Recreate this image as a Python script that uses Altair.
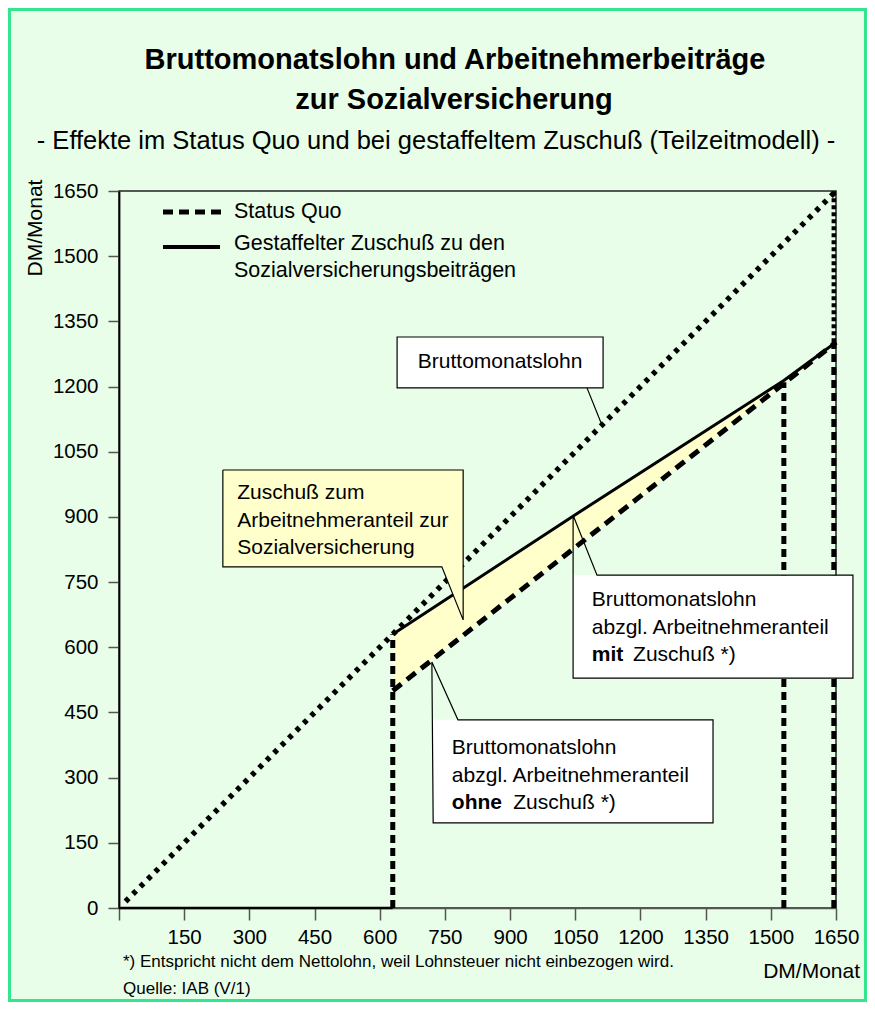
import altair as alt
import pandas as pd

FONT = "Liberation Sans"

# ---------------- data ----------------
gross_x = [15, 1650]
gross_y = [15, 1650]

net_x = [630, 1050, 1530, 1650]
status_quo_y = [500, 830, 1207, 1302]      # gross minus employee share, no subsidy
zuschuss_y = [630, 905, 1214, 1302]        # gross minus employee share, with graded subsidy

vert_x = [630, 1530, 1645]
vert_top = [630, 1210, 1302]

x_ticks = [0, 150, 300, 450, 600, 750, 900, 1050, 1200, 1350, 1500, 1650]
y_ticks = [0, 150, 300, 450, 600, 750, 900, 1050, 1200, 1350, 1500, 1650]

title_lines = ["Bruttomonatslohn und Arbeitnehmerbeiträge", "zur Sozialversicherung"]
subtitle = "- Effekte im Status Quo und bei gestaffeltem Zuschuß (Teilzeitmodell) -"
legend_sq = "Status Quo"
legend_zu = ["Gestaffelter Zuschuß zu den", "Sozialversicherungsbeiträgen"]
note_1 = "*) Entspricht nicht dem Nettolohn, weil Lohnsteuer nicht einbezogen wird."
note_2 = "Quelle: IAB (V/1)"
unit = "DM/Monat"

# ---------------- tables ----------------
df_gross = pd.DataFrame({"x": gross_x, "y": gross_y})
df_net = pd.DataFrame({"x": net_x, "sq": status_quo_y, "zu": zuschuss_y})
df_vert = pd.DataFrame({"x": vert_x, "y0": [0] * len(vert_x), "top": vert_top})
one = pd.DataFrame({"a": [0]})

W, H = 717, 717
PAD = {"left": 111, "top": 183, "right": 31, "bottom": 94}

xs = alt.Scale(domain=[0, 1650], nice=False, zero=False)
ys = alt.Scale(domain=[0, 1650], nice=False, zero=False)

x_axis = alt.Axis(values=x_ticks, format="d",
                  labelExpr="datum.value == 0 ? '' : datum.label",
                  tickSize=12, tickColor="#555555", tickWidth=1.5,
                  domainColor="#555555", domainWidth=1.5,
                  labelFontSize=20.5, labelFont=FONT, labelColor="black",
                  labelPadding=7, grid=False, title=None, labelFlush=False,
                  labelOverlap=False)
y_axis = alt.Axis(values=y_ticks, format="d", tickSize=11, tickColor="#555555",
                  tickWidth=1.5, domainColor="black", domainWidth=1.8,
                  labelFontSize=20.5, labelFont=FONT, labelColor="black",
                  labelPadding=10, grid=False, title=None, labelOverlap=False)

fill = alt.Chart(df_net).mark_area(color="#FFFFCC", opacity=1).encode(
    x=alt.X("x:Q", scale=xs, axis=x_axis),
    y=alt.Y("zu:Q", scale=ys, axis=y_axis),
    y2="sq:Q",
)

gross = alt.Chart(df_gross).mark_line(color="black", strokeWidth=5.5,
                                      strokeDash=[4.5, 6], strokeCap="butt").encode(
    x="x:Q", y="y:Q")

sq_line = alt.Chart(df_net).mark_line(color="black", strokeWidth=5,
                                      strokeDash=[11, 7], strokeCap="butt").encode(
    x="x:Q", y="sq:Q")

zu_line = alt.Chart(df_net).mark_line(color="black", strokeWidth=3).encode(
    x="x:Q", y="zu:Q")

verts = alt.Chart(df_vert).mark_rule(color="black", strokeWidth=5,
                                     strokeDash=[8, 5], strokeCap="butt").encode(
    x="x:Q", y="y0:Q", y2="top:Q")

vert_up = alt.Chart(pd.DataFrame({"x": [1645], "y0": [1302], "y1": [1650]})).mark_rule(
    color="black", strokeWidth=4.5, strokeDash=[4, 3], strokeCap="butt").encode(
    x="x:Q", y="y0:Q", y2="y1:Q")

base_seg = alt.Chart(pd.DataFrame({"x0": [0], "x1": [630], "y": [0]})).mark_rule(
    color="black", strokeWidth=2.5).encode(x="x0:Q", x2="x1:Q", y="y:Q")

# ---------------- callouts (annotation geometry, data units) ----------------
def drect(x1, x2, y1, y2, fill, stroke=None):
    kw = dict(fill=fill)
    if stroke:
        kw.update(stroke=stroke, strokeWidth=1.2)
    d = pd.DataFrame({"x1": [x1], "x2": [x2], "y1": [y1], "y2": [y2]})
    return alt.Chart(d).mark_rect(**kw).encode(
        x="x1:Q", x2="x2:Q", y="y1:Q", y2="y2:Q")

poly_rows = []
def add_poly(name, pts):
    for i, (px, py) in enumerate(pts):
        poly_rows.append({"shape": name, "o": i, "x": px, "y": py})

add_poly("gelb", [(239, 1008), (792, 1008), (792, 663), (743, 785), (239, 785), (239, 1008)])
add_poly("mit", [(1045, 904), (1100, 766), (1689, 766), (1689, 529), (1045, 529), (1045, 904)])
add_poly("ohne", [(720, 566), (780, 433), (1367, 433), (1367, 196), (723, 196), (720, 566)])
add_poly("brutto", [(1077, 1197), (1112, 1110)])
df_poly = pd.DataFrame(poly_rows)

yellow_rect = drect(239, 792, 785, 1008, "#FFFFCC")
tri = alt.Chart(pd.DataFrame({"x": [743, 792], "y": [786, 786], "y2": [786, 663]})).mark_area(
    color="#FFFFCC", opacity=1).encode(x="x:Q", y="y:Q", y2="y2:Q")
mit_rect = drect(1045, 1689, 529, 766, "white")
ohne_rect = drect(723, 1367, 196, 433, "white")
brutto_rect = drect(640, 1114, 1197, 1314, "white", stroke="black")

outlines = alt.Chart(df_poly).mark_line(color="black", strokeWidth=1.2).encode(
    x="x:Q", y="y:Q", detail="shape:N", order="o:Q")

def dtext(txt, x, y, size=21, weight="normal", align="left"):
    d = pd.DataFrame({"x": [x], "y": [y]})
    return alt.Chart(d).mark_text(text=txt, font=FONT, fontSize=size, fontWeight=weight,
                                  align=align, baseline="middle", color="black").encode(
        x="x:Q", y="y:Q")

def ptext(txt, x, y, size=18, weight="normal", align="left", angle=0):
    return alt.Chart(one).mark_text(text=txt, font=FONT, fontSize=size, fontWeight=weight,
                                    align=align, baseline="middle", color="black",
                                    angle=angle).encode(x=alt.value(x), y=alt.value(y))

texts = [
    dtext("Bruttomonatslohn", 877, 1256, align="center"),
    dtext("Zuschuß zum", 272, 955),
    dtext("Arbeitnehmeranteil zur", 272, 891),
    dtext("Sozialversicherung", 272, 828),
    dtext("Bruttomonatslohn", 1088, 709),
    dtext("abzgl. Arbeitnehmeranteil", 1088, 644),
    dtext("mit", 1088, 582, weight="bold"),
    dtext("Zuschuß *)", 1183, 582),
    dtext("Bruttomonatslohn", 766, 368),
    dtext("abzgl. Arbeitnehmeranteil", 766, 304),
    dtext("ohne", 766, 242, weight="bold"),
    dtext("Zuschuß *)", 907, 242),
]

# ---------------- legend, titles, notes (pixel positions) ----------------
leg_sq = alt.Chart(one).mark_rule(color="black", strokeWidth=5, strokeDash=[10, 6],
                                  strokeCap="butt").encode(
    x=alt.value(44), x2=alt.value(102), y=alt.value(21))
leg_zu = alt.Chart(one).mark_rule(color="black", strokeWidth=4).encode(
    x=alt.value(44), x2=alt.value(101), y=alt.value(56))

ptexts = [
    ptext(legend_sq, 115, 21, size=21.5),
    ptext(legend_zu[0], 115, 53, size=21.5),
    ptext(legend_zu[1], 115, 80, size=21.5),
    ptext(title_lines[0], 336, -131, size=29, weight="bold", align="center"),
    ptext(title_lines[1], 335, -91, size=29, weight="bold", align="center"),
    ptext(subtitle, 317, -50, size=25.5, align="center"),
    ptext(unit, -83, 37, size=21, align="center", angle=270),
    ptext(unit, 741, 781, size=21, align="right"),
    ptext(note_1, 4, 771, size=17),
    ptext(note_2, 4, 798, size=17),
]

border = alt.Chart(one).mark_rect(fillOpacity=0, stroke="#33E58C", strokeWidth=3).encode(
    x=alt.value(-109.5), x2=alt.value(746.5), y=alt.value(-181.5), y2=alt.value(809.5))

chart = alt.layer(
    fill, gross, sq_line, zu_line, verts, vert_up, base_seg,
    yellow_rect, tri, mit_rect, ohne_rect, brutto_rect, outlines,
    *texts, leg_sq, leg_zu, *ptexts, border,
).properties(
    width=W, height=H,
    autosize=alt.AutoSizeParams(type="none"),
    padding=PAD,
    background="#E8FEE8",
).configure_view(stroke="#222222", strokeWidth=1.5)

chart.save("out.html", embed_options={"renderer": "svg", "actions": False})
